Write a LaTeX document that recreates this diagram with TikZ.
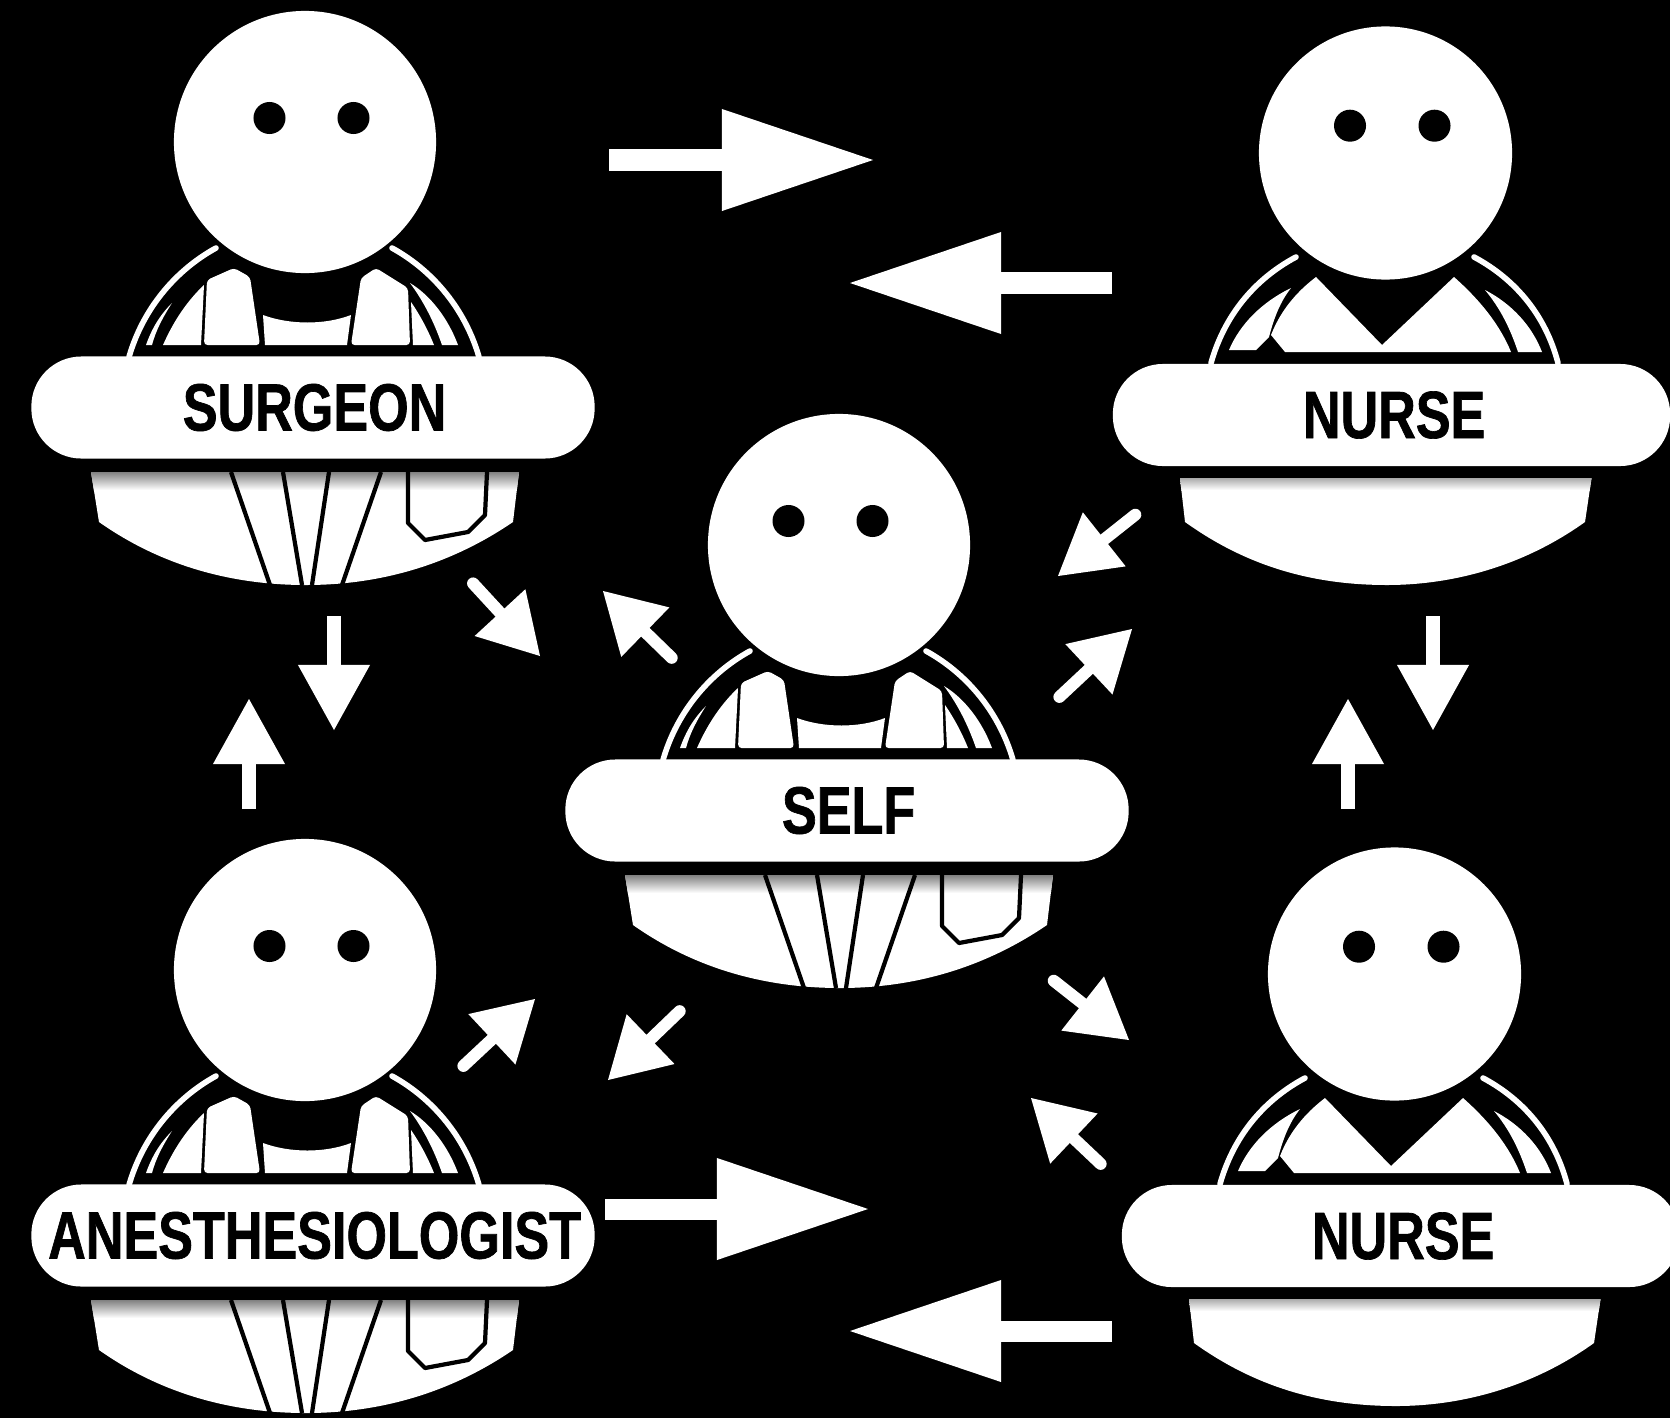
\documentclass[tikz,border=0pt]{standalone}
\usepackage{fontspec}
\usetikzlibrary{arrows.meta}
\newfontfamily\badgefont[FakeStretch=.78,FakeBold=1]{Liberation Sans}
\tikzset{
  head/.style={circle,fill=white,inner sep=0pt,minimum size=#1},
  eye/.style={circle,fill=black,inner sep=0pt,minimum size=.32cm},
  badge/.style={fill=white,text=black,rounded corners=.5cm,minimum height=1.02cm,inner sep=0pt,font=\badgefont\fontsize{19pt}{19pt}\selectfont\bfseries},
  shawl/.style={draw=white,line width=1.6pt,line cap=round},
  cloth/.style={fill=white,rounded corners=1pt},
  seam/.style={draw=black,line width=1.2pt,line join=round},
  bigarrow/.style={draw=white,line width=.21cm,-{Triangle[length=1.51cm,width=1.02cm,line width=0pt]}},
  midarrow/.style={draw=white,line width=.14cm,-{Triangle[length=.65cm,width=.72cm,line width=0pt]}},
  slantarrow/.style={draw=white,line width=.12cm,line cap=round,shorten <=.06cm,-{Triangle[length=.59cm,width=.69cm,line width=0pt]}}
}
\newcommand{\shadedcoat}[1]{%
  \fill[white] #1;
  \begin{scope}
    \clip #1;
    \shade[top color=black!55,bottom color=white] (60,470) rectangle (1640,490);
  \end{scope}
}
\newcommand{\doctor}[5][0]{%
  \begin{scope}[shift={(#3,#4)}]
    \node[head=2.62cm] (#2head) at (305,142) {};
    \node[eye] (#2eyeL) at ({269.5+#1},118) {};
    \node[eye] (#2eyeR) at ({353.5+#1},118) {};
    \draw[shawl] (216,248) .. controls (173.7,271.3) and (142.4,310.6) .. (129,357);
    \draw[shawl] (392,248) .. controls (434.3,271.3) and (465.6,310.6) .. (479,357);
    \fill[white] (146,345) .. controls (152,328) and (160,315) .. (172,303) .. controls (163,317) and (156,330) .. (152,345) -- cycle;
    \fill[white] (163,345) .. controls (174,320) and (188,300) .. (204,285) -- (201,345) -- cycle;
    \fill[cloth] (204,345) -- (207,280) -- (234,268) -- (250,277) -- (260,345) -- cycle;
    \fill[white] (263,315) .. controls (290,325) and (325,325) .. (351,315) -- (347,345) -- (265,345) -- cycle;
    \fill[cloth] (351,345) -- (361,278) -- (376,268) -- (408,288) -- (410,345) -- cycle;
    \fill[white] (411,302) .. controls (420,315) and (428,330) .. (434,345) -- (413,345) -- cycle;
    \fill[white] (410,283) .. controls (430,295) and (448,318) .. (458,345) -- (442,345) .. controls (434,322) and (424,302) .. (410,283) -- cycle;
    \node[badge,minimum width=5.63cm] (#2tag) at (313,407.5) {\hspace*{.9pt}#5};
    \shadedcoat{(91,472) -- (519,472) -- (513,522) .. controls (450,565) and (380,585) .. (306,585) .. controls (230,585) and (160,565) .. (99,522) -- cycle}
    \draw[seam] (231,472) -- (270,585);
    \draw[seam] (283,472) -- (302,585);
    \draw[seam] (329,472) -- (312,585);
    \draw[seam] (381,472) -- (342,585);
    \draw[seam] (408,472) -- (408,523) -- (425,540) -- (468,532) -- (485,515) -- (487,472);
  \end{scope}
}
\newcommand{\nurse}[4]{%
  \begin{scope}[shift={(#2,#3)}]
    \node[head=2.53cm] (#1head) at (1385.5,153) {};
    \node[eye] (#1eyeL) at (1350,125.7) {};
    \node[eye] (#1eyeR) at (1434.5,125.7) {};
    \draw[shawl] (1296,257) .. controls (1253,280) and (1224,317) .. (1211,363);
    \draw[shawl] (1474,257) .. controls (1517,280) and (1546,317) .. (1558,363);
    \fill[white] (1316,277) -- (1382,345) -- (1454,277) .. controls (1480,300) and (1500,325) .. (1511,352) -- (1285,352) -- (1271,335) .. controls (1280,312) and (1295,293) .. (1316,277) -- cycle;
    \fill[white] (1291,288) .. controls (1262,302) and (1240,324) .. (1229,350) -- (1256,350) -- (1269,337) .. controls (1274,318) and (1280,302) .. (1291,288) -- cycle;
    \fill[white] (1485,290) .. controls (1512,304) and (1532,326) .. (1542,352) -- (1518,352) .. controls (1510,328) and (1500,308) .. (1485,290) -- cycle;
    \node[badge,minimum width=5.57cm] (#1tag) at (1391.5,415) {\hspace*{1.5pt}#4};
    \shadedcoat{(1180,478) -- (1591.5,478) -- (1585,522) .. controls (1525,565) and (1455,585) .. (1387,585) .. controls (1310,585) and (1245,565) .. (1185,522) -- cycle}
  \end{scope}
}

\begin{document}
\begin{tikzpicture}[x=.01cm,y=-.01cm]
  \useasboundingbox (0,0) rectangle (1670,1418);
  \fill[black] (0,0) rectangle (1670,1418);
  \clip (0,0) rectangle (1670,1418);
  \doctor{surgeon}{0}{0}{SURGEON}
  \doctor[-15]{self}{534}{403}{SELF}
  \doctor{anes}{0}{828}{ANESTHESIOLOGIST}
  \nurse{nurseA}{0}{0}{NURSE}
  \nurse{nurseB}{9}{821}{NURSE}
  % long arrows
  \coordinate (surgeonOut) at (609,160); \coordinate (nurseAIn) at (873,160);
  \coordinate (nurseAOut) at (1112,283); \coordinate (surgeonIn) at (850,283);
  \coordinate (anesOut) at (605,1209); \coordinate (nurseBIn) at (868,1209);
  \coordinate (nurseBOut) at (1112,1331); \coordinate (anesIn) at (850,1331);
  \draw[bigarrow] (surgeonOut) -- (nurseAIn);
  \draw[bigarrow] (nurseAOut) -- (surgeonIn);
  \draw[bigarrow] (anesOut) -- (nurseBIn);
  \draw[bigarrow] (nurseBOut) -- (anesIn);
  % up and down
  \coordinate (surgeonDown) at (334,616); \coordinate (anesTop) at (334,730);
  \coordinate (anesUp) at (249,809); \coordinate (surgeonBase) at (249,699);
  \coordinate (nurseADown) at (1433,616); \coordinate (nurseBTop) at (1433,730);
  \coordinate (nurseBUp) at (1348,809); \coordinate (nurseABase) at (1348,699);
  \draw[midarrow] (surgeonDown) -- (anesTop);
  \draw[midarrow] (anesUp) -- (surgeonBase);
  \draw[midarrow] (nurseADown) -- (nurseBTop);
  \draw[midarrow] (nurseBUp) -- (nurseABase);
  % to and from the middle
  \foreach \fromx/\fromy/\tox/\toy in {469/579/540/656,676/662/603/591,1140/511/1058/576,1055/701/1132/629,1049/977/1129/1040,1105/1168/1031/1098,684/1007/608/1080,459/1070/535/999}{
    \coordinate (slantA) at (\fromx,\fromy);
    \coordinate (slantB) at (\tox,\toy);
    \draw[slantarrow] (slantA) -- (slantB);
  }
\end{tikzpicture}
\end{document}
